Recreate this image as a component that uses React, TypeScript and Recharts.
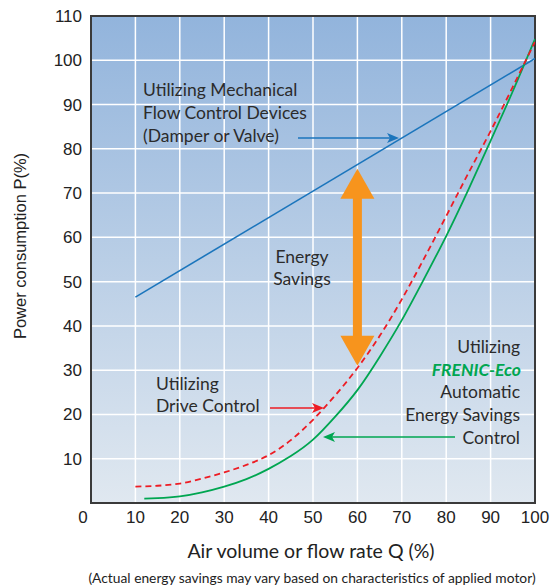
import { CartesianGrid, Line, LineChart, ReferenceArea, XAxis, YAxis } from "recharts"

// flow rate Q (%) and power P (%)
const mechQ = [10, 100]
const mechP = [46.5, 100.4]

const driveQ = [10, 15, 20, 25, 30, 35, 40, 45, 50, 55, 60, 65, 70, 75, 80, 85, 90, 95, 100]
const driveP = [3.7, 3.9, 4.4, 5.5, 6.9, 8.6, 10.8, 14.2, 18.8, 24.3, 30.5, 37.7, 46, 55.2, 64.8, 74.5, 84, 94, 104.2]

const ecoQ = [12, 15, 20, 25, 30, 35, 40, 45, 50, 55, 60, 65, 70, 75, 80, 85, 90, 95, 100]
const ecoP = [1.0, 1.1, 1.5, 2.4, 3.7, 5.4, 7.7, 10.6, 14.3, 19.5, 25.5, 33, 41.3, 50.6, 60.3, 70.8, 81.8, 93, 104.8]

const xTicks = [0, 10, 20, 30, 40, 50, 60, 70, 80, 90, 100]
const yTicks = [0, 10, 20, 30, 40, 50, 60, 70, 80, 90, 100, 110]

const W = 551
const H = 588
const LEFT = 91
const RIGHT = 16
const TOP = 16
const BOTTOM = 85

const px = (q: number) => LEFT + (q / 100) * (W - LEFT - RIGHT)
const py = (p: number) => TOP + ((110 - p) / 110) * (H - TOP - BOTTOM)

const toRows = (qs: number[], ps: number[]) => qs.map((q, i) => ({ q, p: ps[i] }))

const TEXT = "Lato, 'DejaVu Sans', sans-serif"
const TICK = "'Liberation Sans', Arial, sans-serif"

function XTick(props: any) {
  const { x, y, payload } = props
  const shift = payload.value === 0 ? -8 : 0
  return (
    <text x={x + shift} y={y + 12} textAnchor="middle" fontSize={17} fontFamily={TICK} fill="#222">
      {payload.value}
    </text>
  )
}

function YTick(props: any) {
  const { x, y, payload } = props
  if (payload.value === 0) return null
  return (
    <text x={x - 1} y={y + 6} textAnchor="end" fontSize={17} fontFamily={TICK} fill="#222">
      {payload.value}
    </text>
  )
}

function Arrow({ x1, x2, y, color }: { x1: number; x2: number; y: number; color: string }) {
  const dir = x2 > x1 ? 1 : -1
  return (
    <g>
      <line x1={x1} y1={y} x2={x2 - dir * 8} y2={y} stroke={color} strokeWidth={1.6} />
      <polygon points={`${x2},${y} ${x2 - dir * 12},${y - 5} ${x2 - dir * 9},${y} ${x2 - dir * 12},${y + 5}`} fill={color} />
    </g>
  )
}

function Overlay() {
  const ax = px(60)
  const top = py(75.5)
  const bot = py(31)
  return (
    <svg width={W} height={H} style={{ position: "absolute", left: 0, top: 0, pointerEvents: "none" }}>
      <g fontFamily={TEXT} fontSize={17.5} fill="#2b2b2b">
        <text x={143} y={96}>Utilizing Mechanical</text>
        <text x={143} y={119}>Flow Control Devices</text>
        <text x={143} y={142}>(Damper or Valve)</text>

        <text x={302} y={263} textAnchor="middle">Energy</text>
        <text x={302} y={285} textAnchor="middle">Savings</text>

        <text x={156} y={390}>Utilizing</text>
        <text x={156} y={412}>Drive Control</text>

        <text x={520} y={353} textAnchor="end">Utilizing</text>
        <text x={521} y={376} textAnchor="end" fill="#00a651" fontWeight="bold" fontStyle="italic">
          FRENIC-Eco
        </text>
        <text x={520} y={398} textAnchor="end">Automatic</text>
        <text x={520} y={421} textAnchor="end">Energy Savings</text>
        <text x={520} y={444} textAnchor="end">Control</text>
      </g>

      <Arrow x1={298} x2={399} y={138} color="#1b75bc" />
      <Arrow x1={270} x2={324} y={408} color="#ed1c24" />
      <Arrow x1={455} x2={323} y={437} color="#00a651" />

      <g fill="#f7941d">
        <rect x={ax - 4.5} y={top + 28} width={9} height={bot - top - 56} />
        <polygon points={`${ax},${top} ${ax - 17},${top + 30} ${ax + 17},${top + 30}`} />
        <polygon points={`${ax},${bot} ${ax - 17},${bot - 30} ${ax + 17},${bot - 30}`} />
      </g>

      <text
        x={0}
        y={0}
        transform={`translate(26, 246) rotate(-90)`}
        textAnchor="middle"
        fontFamily={TICK}
        fontSize={16.5}
        fill="#222"
      >
        Power consumption P(%)
      </text>
      <text x={311} y={558} textAnchor="middle" fontFamily={TEXT} fontSize={19.5} fill="#222">
        Air volume or flow rate Q (%)
      </text>
      <text x={312} y={583} textAnchor="middle" fontFamily={TEXT} fontSize={13.8} fill="#222">
        (Actual energy savings may vary based on characteristics of applied motor)
      </text>
    </svg>
  )
}

export default function App() {
  return (
    <div style={{ position: "absolute", left: 0, top: 0, width: W, height: H, background: "#fff" }}>
      <LineChart width={W} height={H} margin={{ top: TOP, right: RIGHT, bottom: 0, left: 0 }}>
        <defs>
          <linearGradient id="bg" x1="0" y1="0" x2="0" y2="1">
            <stop offset="0%" stopColor="#92b4dc" />
            <stop offset="100%" stopColor="#e0e8f0" />
          </linearGradient>
        </defs>
        <CartesianGrid fill="url(#bg)" stroke="#ffffff" strokeWidth={1.5} fillOpacity={1} />
        <XAxis
          type="number"
          dataKey="q"
          domain={[0, 100]}
          ticks={xTicks}
          height={BOTTOM}
          axisLine={false}
          tickLine={false}
          tick={<XTick />}
          allowDataOverflow
        />
        <YAxis
          type="number"
          dataKey="p"
          domain={[0, 110]}
          ticks={yTicks}
          width={LEFT}
          axisLine={false}
          tickLine={false}
          tick={<YTick />}
          allowDataOverflow
        />
        <Line
          data={toRows(mechQ, mechP)}
          dataKey="p"
          type="linear"
          stroke="#1b75bc"
          strokeWidth={1.6}
          dot={false}
          isAnimationActive={false}
        />
        <Line
          data={toRows(ecoQ, ecoP)}
          dataKey="p"
          type="natural"
          stroke="#00a651"
          strokeWidth={1.8}
          dot={false}
          isAnimationActive={false}
        />
        <Line
          data={toRows(driveQ, driveP)}
          dataKey="p"
          type="natural"
          stroke="#ed1c24"
          strokeWidth={1.8}
          strokeDasharray="6 4"
          dot={false}
          isAnimationActive={false}
        />
        <ReferenceArea x1={0} x2={100} y1={0} y2={110} fill="none" stroke="#3a3a3a" strokeWidth={2} fillOpacity={0} />
      </LineChart>
      <Overlay />
    </div>
  )
}
